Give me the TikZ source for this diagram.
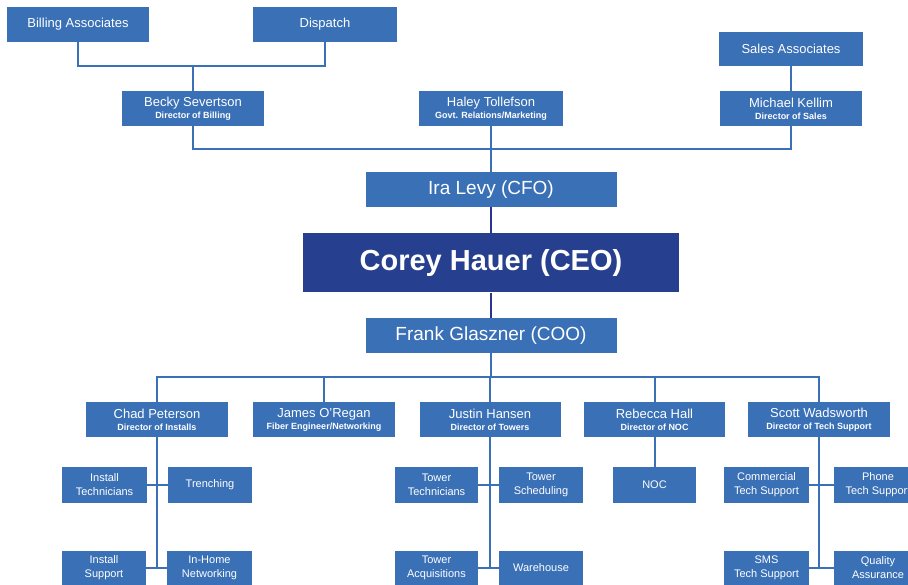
\documentclass[tikz,border=0pt]{standalone}
\usepackage{fontspec}
\setmainfont{Liberation Sans}
\definecolor{boxblue}{HTML}{3A70B6}
\definecolor{ceoblue}{HTML}{263F8E}
\definecolor{darkline}{HTML}{2B3492}
\newcommand\dirtext[2]{{\fontsize{13}{12}\selectfont #1}\\{\fontsize{9}{12}\selectfont\bfseries #2}}
\tikzset{
  box/.style={fill=boxblue, draw=none, text=white, inner sep=0pt, align=center,
    font=\fontsize{13}{12}\selectfont},
  small/.style={box, font=\fontsize{11}{14}\selectfont},
  big/.style={box, font=\fontsize{19}{20}\selectfont},
  ceo/.style={box, fill=ceoblue, font=\fontsize{29}{30}\selectfont\bfseries},
  conn/.style={draw=boxblue, line width=2pt},
  darkconn/.style={draw=darkline, line width=2pt},
}
\begin{document}
\begin{tikzpicture}[x=1pt,y=-1pt]
\useasboundingbox (0,0) rectangle (908,585);
\clip (0,0) rectangle (908,585);
% top level
\node[box, minimum width=142, minimum height=35] (ba) at (78,24.5) {Billing Associates};
\node[box, minimum width=144, minimum height=35] (disp) at (325,24.5) {Dispatch};
\node[box, minimum width=144, minimum height=34] (sales) at (791,49) {Sales Associates};
\node[box, minimum width=142, minimum height=35] (becky) at (193,108.5) {\dirtext{Becky Severtson}{Director of Billing}};
\node[box, minimum width=144, minimum height=35] (haley) at (491,108.5) {\dirtext{Haley Tollefson}{Govt. Relations/Marketing}};
\node[box, minimum width=142, minimum height=35] (michael) at (791,108.5) {\dirtext{Michael Kellim}{Director of Sales}};
\node[big, minimum width=251, minimum height=35] (ira) at (491,189.5) {Ira Levy (CFO)};
\node[ceo, minimum width=376, minimum height=59] (ceo) at (491,263) {Corey Hauer (CEO)};
\node[big, minimum width=251, minimum height=35] (frank) at (491,335.5) {Frank Glaszner (COO)};
% directors
\node[box, minimum width=142, minimum height=35] (chad) at (157,419.5) {\dirtext{Chad Peterson}{Director of Installs}};
\node[box, minimum width=142, minimum height=35] (james) at (324,419.5) {\dirtext{James O'Regan}{Fiber Engineer/Networking}};
\node[box, minimum width=141, minimum height=35] (justin) at (490,419.5) {\dirtext{Justin Hansen}{Director of Towers}};
\node[box, minimum width=141, minimum height=35] (rebecca) at (654.5,419.5) {\dirtext{Rebecca Hall}{Director of NOC}};
\node[box, minimum width=142, minimum height=35] (scott) at (819,419.5) {\dirtext{Scott Wadsworth}{Director of Tech Support}};
% row 3
\node[small, minimum width=85, minimum height=36] (it) at (104.5,485) {Install\\Technicians};
\node[small, minimum width=84, minimum height=36] (tr) at (210,485) {Trenching};
\node[small, minimum width=83, minimum height=36] (tt) at (436.5,485) {Tower\\Technicians};
\node[small, minimum width=84, minimum height=36] (ts) at (541,485) {Tower\\Scheduling};
\node[small, minimum width=83, minimum height=36] (noc) at (654.5,485) {NOC};
\node[small, minimum width=85, minimum height=36] (cts) at (766.5,485) {Commercial\\Tech Support};
\node[small, minimum width=88, minimum height=36] (pts) at (878,485) {Phone\\Tech Support};
% row 4
\node[small, minimum width=84, minimum height=34] (is) at (104,567.5) {Install\\Support};
\node[small, minimum width=85, minimum height=34] (ihn) at (209.5,567.5) {In-Home\\Networking};
\node[small, minimum width=83, minimum height=34] (ta) at (436.5,567.5) {Tower\\Acquisitions};
\node[small, minimum width=84, minimum height=34] (wh) at (541,567.5) {Warehouse};
\node[small, minimum width=85, minimum height=34] (sms) at (766.5,567.5) {SMS\\Tech Support};
\node[small, minimum width=88, minimum height=34] (qa) at (878,567.5) {Quality\\Assurance};
% coordinates
\coordinate (j1) at (193,66);
\coordinate (j2) at (491,149);
\coordinate (j3) at (490,377);
% connectors top
\draw[conn] (ba.south) |- (j1) -| (disp.south);
\draw[conn] (j1) -- (becky.north);
\draw[conn] (sales.south) -- (michael.north);
\draw[conn] (becky.south) |- (j2) -| (michael.south);
\draw[conn] (haley.south) -- (haley.south |- ira.north);
\draw[darkconn] (ira.south) -- (ceo.north);
\draw[darkconn] (ceo.south) -- (frank.north);
% connectors bottom
\draw[conn] (frank.south) -- (frank.south |- j3);
\draw[conn] (chad.north) |- (j3) -| (scott.north);
\draw[conn] (james.north) -- (james.north |- j3);
\draw[conn] (justin.north) -- (justin.north |- j3);
\draw[conn] (rebecca.north) -- (rebecca.north |- j3);
\draw[conn] (chad.south) -- (chad.south |- is.east);
\draw[conn] (justin.south) -- (justin.south |- ta.east);
\draw[conn] (scott.south) -- (scott.south |- sms.east);
\draw[conn] (rebecca.south) -- (noc.north);
\draw[conn] (it.east) -- (tr.west);
\draw[conn] (is.east) -- (ihn.west);
\draw[conn] (tt.east) -- (ts.west);
\draw[conn] (ta.east) -- (wh.west);
\draw[conn] (cts.east) -- (pts.west);
\draw[conn] (sms.east) -- (qa.west);
\end{tikzpicture}
\end{document}
